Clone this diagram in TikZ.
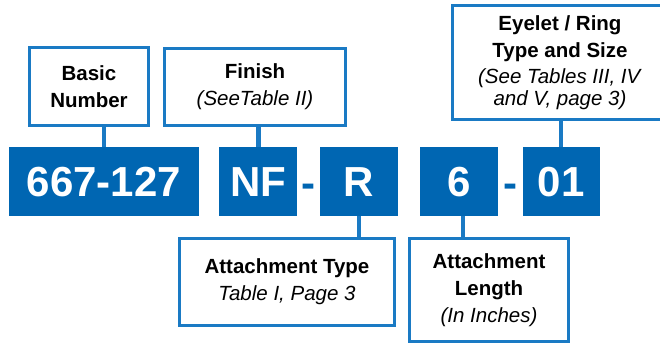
\documentclass[tikz,border=0pt]{standalone}
\usepackage{fontspec}
\setmainfont{Liberation Sans}
\usetikzlibrary{positioning}
\definecolor{blockblue}{RGB}{0,102,178}
\definecolor{lineblue}{RGB}{26,122,196}
\tikzset{
  code/.style={fill=blockblue, text=white, inner sep=0pt, minimum height=69pt,
    text height=30pt, text depth=0pt, font=\fontsize{42}{42}\selectfont\bfseries},
  hyph/.style={text=blockblue, inner sep=0pt, anchor=base, font=\fontsize{42}{42}\selectfont\bfseries},
  infobox/.style={draw=lineblue, line width=3pt, fill=white, align=center, inner sep=0pt,
    font=\fontsize{20.5}{26.7}\selectfont},
  conn/.style={draw=lineblue, line width=4.5pt}
}
\begin{document}
\begin{tikzpicture}[x=1pt,y=-1pt]
      \useasboundingbox (0,0) rectangle (660,345);
      % part number blocks
      \node[code, minimum width=190pt] (num) at (104,181.5) {667-127};
      \node[code, minimum width=78pt, right=20pt of num] (fin) {NF};
      \node[code, minimum width=78pt, right=22pt of fin] (att) {R};
      \node[code, minimum width=78pt, right=22pt of att] (len) {6};
      \node[code, minimum width=77pt, right=24pt of len] (eye) {01};
      \node[hyph] (d1) at (308.5,197) {-};
      \node[hyph] (d2) at (510,197) {-};
      % upper boxes
      \node[infobox, minimum width=119pt, minimum height=78pt] (basic) at (89,86.5)
        {\textbf{Basic}\\\textbf{Number}};
      \node[infobox, minimum width=181pt, minimum height=77pt] (finbox) at (255,87)
        {\textbf{Finish}\\\textit{(SeeTable II)}};
      \node[infobox, minimum width=215pt, minimum height=114pt] (eyebox) at (560,62.5)
        {\textbf{Eyelet / Ring}\\\textbf{Type and Size}\\\textit{(See Tables III, IV}\\[-5.5pt]\textit{and V, page 3)}};
      % lower boxes
      \node[infobox, minimum width=215pt, minimum height=87pt] (typebox) at (287,282)
        {\textbf{Attachment Type}\\\textit{Table I, Page 3}};
      \node[infobox, minimum width=159pt, minimum height=103pt] (lenbox) at (489,290)
        {\textbf{Attachment}\\\textbf{Length}\\\textit{(In Inches)}};
      \draw[conn] (num.north) -- (num.north |- basic.south);
      \draw[conn] (fin.north) -- (fin.north |- finbox.south);
      \draw[conn] (eye.north) -- (eye.north |- eyebox.south);
      \draw[conn] (att.south) -- (att.south |- typebox.north);
      \draw[conn] ([xshift=4pt]len.south) -- ([xshift=4pt]len.south |- lenbox.north);
    \end{tikzpicture}
\end{document}
